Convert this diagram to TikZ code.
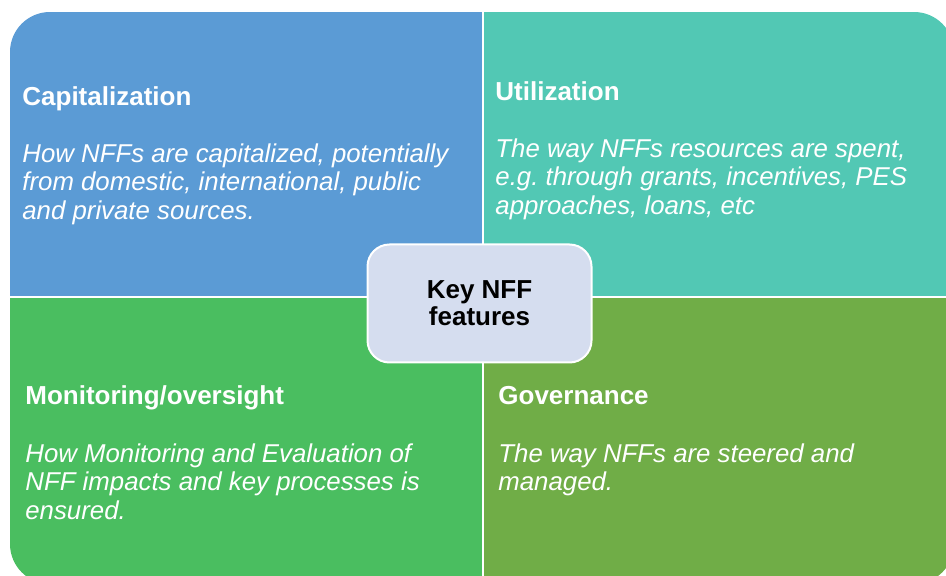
\documentclass[tikz,border=0pt]{standalone}
\usepackage{fontspec}
\setmainfont{Liberation Sans}
\frenchspacing
\definecolor{nffblue}{RGB}{91,155,213}
\definecolor{nffteal}{RGB}{82,200,180}
\definecolor{nffgreen}{RGB}{74,190,96}
\definecolor{nffolive}{RGB}{112,173,71}
\definecolor{nffkey}{RGB}{213,221,239}
\usetikzlibrary{positioning}

\begin{document}
\begin{tikzpicture}[x=0.5pt,y=-0.5pt,
  title/.style={anchor=base west,inner sep=0pt,text=white,font=\fontsize{13}{14.25}\selectfont\bfseries},
  body/.style={anchor=north west,inner sep=0pt,align=left,text=white,font=\fontsize{12.9}{14.25}\selectfont\itshape},
  keybox/.style={draw=white,line width=1pt,fill=nffkey,rounded corners=11pt,minimum width=112pt,minimum height=59pt,align=center,font=\fontsize{13}{13.5}\selectfont\bfseries}]
  \useasboundingbox (0,0) rectangle (946,576);
  % four quadrants inside one rounded frame
  \begin{scope}
    \clip[rounded corners=20pt] (10,12) rectangle (954,584);
    \fill[nffblue] (10,12) rectangle (483,297);
    \fill[nffteal] (483,12) rectangle (954,297);
    \fill[nffgreen] (10,297) rectangle (483,584);
    \fill[nffolive] (483,297) rectangle (954,584);
    \draw[white,line width=1pt] (483,12) -- (483,584);
    \draw[white,line width=1pt] (10,297) -- (954,297);
  \end{scope}
  % quadrant texts
  \node[title] (cap) at (22,106) {Capitalization};
  \node[body] (captext) at (22,143) {How NFFs are capitalized, potentially\\from domestic, international, public\\and private sources.};
  \node[title] (util) at (495,101) {Utilization};
  \node[body] (utiltext) at (495,138) {The way NFFs resources are spent,\\e.g. through grants, incentives, PES\\approaches, loans, etc};
  \node[title] (mon) at (25,405) {Monitoring/oversight};
  \node[body] (montext) at (25,443) {How Monitoring and Evaluation of\\NFF impacts and key processes is\\ensured.};
  \node[title] (gov) at (498,405) {Governance};
  \node[body] (govtext) at (498,443) {The way NFFs are steered and\\managed.};
  % centre box
  \node[keybox] (key) at (479.5,303.5) {Key NFF\\features};
\end{tikzpicture}
\end{document}
